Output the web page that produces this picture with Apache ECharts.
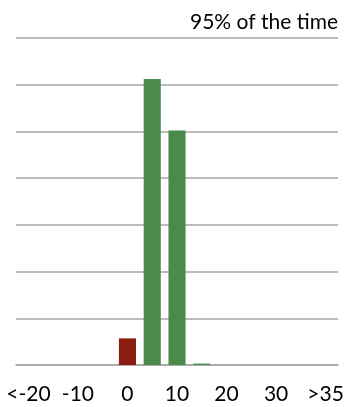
<!DOCTYPE html>
<html>
<head>
<meta charset="utf-8">
<script src="https://cdn.jsdelivr.net/npm/echarts@6/dist/echarts.min.js"></script>
<style>
  html, body { margin: 0; padding: 0; background: #fff; }
  #chart { width: 362px; height: 407px; }
</style>
</head>
<body>
<div id="chart"></div>
<script>
// Difference buckets and share of time (%) in each
const categories = ['<-20', '-15', '-10', '-5', '0', '5', '10', '15', '20', '25', '30', '35', '>35'];
const shares = [0, 0, 0, 0, 5.7, 61.2, 50.2, 0.3, 0, 0, 0, 0, 0];
const titleText = '95% of the time';

const RED = '#8B1E10';
const GREEN = '#4A8A4C';
const GRID_GRAY = '#A6A6A6';

const chart = echarts.init(document.getElementById('chart'), null, { renderer: 'canvas' });

chart.setOption({
  animation: false,
  backgroundColor: '#fff',
  title: {
    text: titleText,
    right: 19,
    top: 7,
    textStyle: { fontFamily: 'Lato', fontSize: 21, fontWeight: 'normal', color: '#000' }
  },
  grid: { left: 16, right: 24, top: 38, bottom: 42, containLabel: false },
  xAxis: {
    type: 'category',
    data: categories,
    axisLine: { show: true, lineStyle: { color: GRID_GRAY, width: 1.5 } },
    axisTick: { show: false },
    axisLabel: {
      interval: 1,
      margin: 19,
      fontFamily: 'Lato',
      fontSize: 21,
      color: '#000'
    }
  },
  yAxis: {
    type: 'value',
    min: 0,
    max: 70,
    interval: 10,
    axisLine: { show: false },
    axisTick: { show: false },
    axisLabel: { show: false },
    splitLine: { show: true, lineStyle: { color: GRID_GRAY, width: 1.5 } }
  },
  series: [{
    type: 'bar',
    data: shares,
    barCategoryGap: '31%',
    itemStyle: {
      color: (p) => (p.dataIndex <= 4 ? RED : GREEN)
    }
  }]
});
</script>
</body>
</html>
